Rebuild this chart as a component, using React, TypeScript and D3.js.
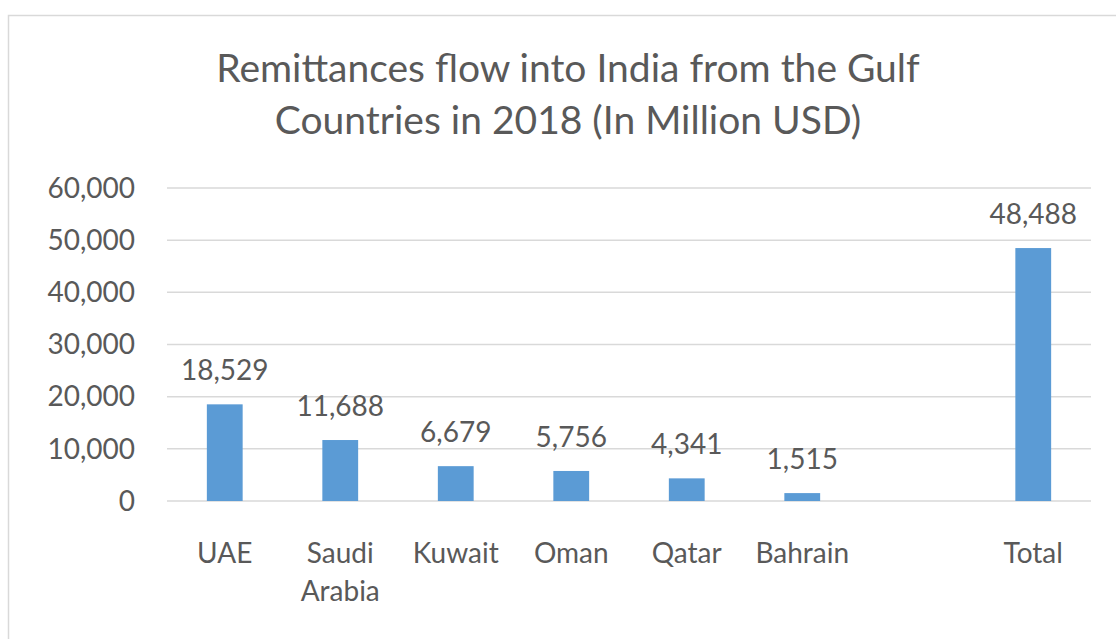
import * as d3 from 'd3'

const categories = ['UAE', 'Saudi Arabia', 'Kuwait', 'Oman', 'Qatar', 'Bahrain', '', 'Total']
const values: (number | null)[] = [18529, 11688, 6679, 5756, 4341, 1515, null, 48488]
const yTicks = [0, 10000, 20000, 30000, 40000, 50000, 60000]
const titleLines = ['Remittances flow into India from the Gulf', 'Countries in 2018 (In Million USD)']

const TEXT = '#595959'
const GRID = '#d9d9d9'
const BAR = '#5b9bd5'
const FONT = 'Lato, "Open Sans", sans-serif'

export default function App() {
  const width = 1116
  const height = 639
  const left = 167
  const right = 1091
  const top = 188
  const bottom = 501

  const x = d3.scaleBand<string>()
    .domain(categories.map((c, i) => `${i}`))
    .range([left, right])
    .paddingInner(0.69)
    .paddingOuter(0.345)

  const y = d3.scaleLinear().domain([0, 60000]).range([bottom, top])
  const fmt = d3.format(',')

  return (
    <svg
      width={width}
      height={height}
      style={{position: 'absolute', left: 0, top: 0, background: '#fff'}}
      fontFamily={FONT}
    >
      <rect x={8.5} y={15.5} width={width + 20} height={height + 20} fill={'#fff'} stroke={GRID} strokeWidth={1.5} />

      <g textAnchor={'middle'} fill={TEXT} fontSize={39}>
        {titleLines.map((t, i) => (
          <text key={i} x={568} y={82 + i * 52}>{t}</text>
        ))}
      </g>

      {yTicks.map(t => (
        <g key={t}>
          <line x1={left} x2={right} y1={y(t)} y2={y(t)} stroke={GRID} strokeWidth={1.5} />
          <text x={135} y={y(t)} dy={'0.35em'} textAnchor={'end'} fontSize={28} fill={TEXT}>
            {fmt(t)}
          </text>
        </g>
      ))}

      {values.map((v, i) => v == null ? null : (
        <g key={i}>
          <rect
            x={x(`${i}`)!}
            y={y(v)}
            width={x.bandwidth()}
            height={y(0) - y(v)}
            fill={BAR}
          />
          <text
            x={x(`${i}`)! + x.bandwidth() / 2}
            y={y(v) - 24}
            textAnchor={'middle'}
            fontSize={28}
            fill={TEXT}
          >
            {fmt(v)}
          </text>
        </g>
      ))}

      {categories.map((c, i) => (
        <text
          key={i}
          x={x(`${i}`)! + x.bandwidth() / 2}
          y={563}
          textAnchor={'middle'}
          fontSize={28}
          fill={TEXT}
        >
          {c.split(' ').map((w, j) => (
            <tspan key={j} x={x(`${i}`)! + x.bandwidth() / 2} dy={j === 0 ? 0 : 38}>{w}</tspan>
          ))}
        </text>
      ))}
    </svg>
  )
}
